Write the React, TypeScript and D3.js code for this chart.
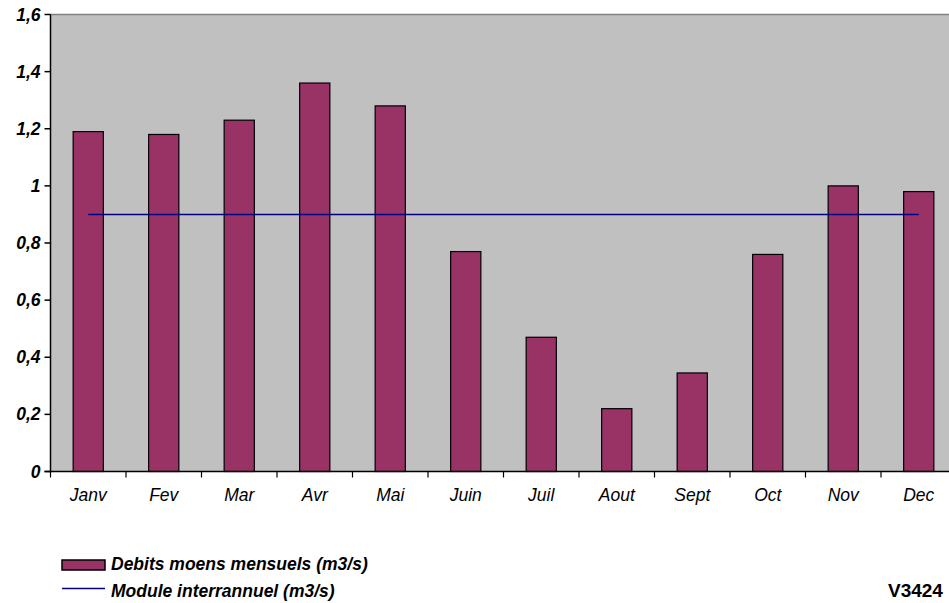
import React from "react";
import * as d3 from "d3";

const months = ["Janv", "Fev", "Mar", "Avr", "Mai", "Juin", "Juil", "Aout", "Sept", "Oct", "Nov", "Dec"];
const debits = [1.19, 1.18, 1.23, 1.36, 1.28, 0.77, 0.47, 0.22, 0.345, 0.76, 1.0, 0.98];
const moduleInterannuel = 0.9;
const yTicks = [0, 0.2, 0.4, 0.6, 0.8, 1, 1.2, 1.4, 1.6];

const W = 949;
const H = 603;
const left = 50.5;
const top = 14.5;
const bottom = 471.5;

const App = () => {
  const x = d3.scaleBand<string>()
    .domain(months)
    .range([left, left + 12 * 75.5])
    .paddingInner(0.6)
    .paddingOuter(0.3);
  const y = d3.scaleLinear().domain([0, 1.6]).range([bottom, top]);
  const fmt = (v: number) => String(v).replace(".", ",");
  const step = x.step();
  const xStart = x.range()[0];
  const lineX1 = (x("Janv") as number) + x.bandwidth() / 2;
  const lineX2 = (x("Dec") as number) + x.bandwidth() / 2;

  return (
    <svg width={W} height={H} style={{ position: "absolute", left: 0, top: 0 }}
      fontFamily="'Liberation Sans', Arial, sans-serif">
      <rect x={0} y={0} width={W} height={H} fill="#fff" />
      <rect x={left} y={top} width={W - left + 10} height={bottom - top} fill="#c0c0c0" />
      <line x1={left} x2={W} y1={top} y2={top} stroke="#808080" strokeWidth={1.5} />

      {months.map((m, i) => (
        <rect key={m} x={x(m)} y={y(debits[i])} width={x.bandwidth()}
          height={bottom - y(debits[i])} fill="#993366" stroke="#000" strokeWidth={1.2} />
      ))}

      <line x1={lineX1} x2={lineX2} y1={y(moduleInterannuel)} y2={y(moduleInterannuel)}
        stroke="#000080" strokeWidth={1.5} />

      {/* axes */}
      <line x1={left} x2={left} y1={top} y2={bottom + 1} stroke="#000" strokeWidth={1.5} />
      <line x1={left - 6} x2={W} y1={bottom} y2={bottom} stroke="#000" strokeWidth={1.5} />
      {yTicks.map((t) => (
        <g key={t}>
          <line x1={left - 6} x2={left} y1={y(t)} y2={y(t)} stroke="#000" strokeWidth={1.5} />
          <text x={left - 10} y={y(t) + 6} textAnchor="end" fontSize={17.5}
            fontWeight="bold" fontStyle="italic">{fmt(t)}</text>
        </g>
      ))}
      {d3.range(13).map((i) => (
        <line key={i} x1={xStart + i * step} x2={xStart + i * step} y1={bottom} y2={bottom + 6}
          stroke="#000" strokeWidth={1.2} />
      ))}
      {months.map((m) => (
        <text key={m} x={(x(m) as number) + x.bandwidth() / 2} y={bottom + 29} textAnchor="middle"
          fontSize={17.5} fontStyle="italic">{m}</text>
      ))}

      {/* legend */}
      <rect x={62} y={560} width={43} height={10} fill="#993366" stroke="#000" strokeWidth={1.5} />
      <text x={111} y={570} fontSize={17.5} fontWeight="bold" fontStyle="italic">Debits moens mensuels (m3/s)</text>
      <line x1={62} x2={105} y1={588.5} y2={588.5} stroke="#000080" strokeWidth={1.5} />
      <text x={111} y={597} fontSize={17.5} fontWeight="bold" fontStyle="italic">Module interrannuel (m3/s)</text>

      <text x={888} y={597} fontSize={19} fontWeight="bold">V3424</text>
    </svg>
  );
};

export default App;
